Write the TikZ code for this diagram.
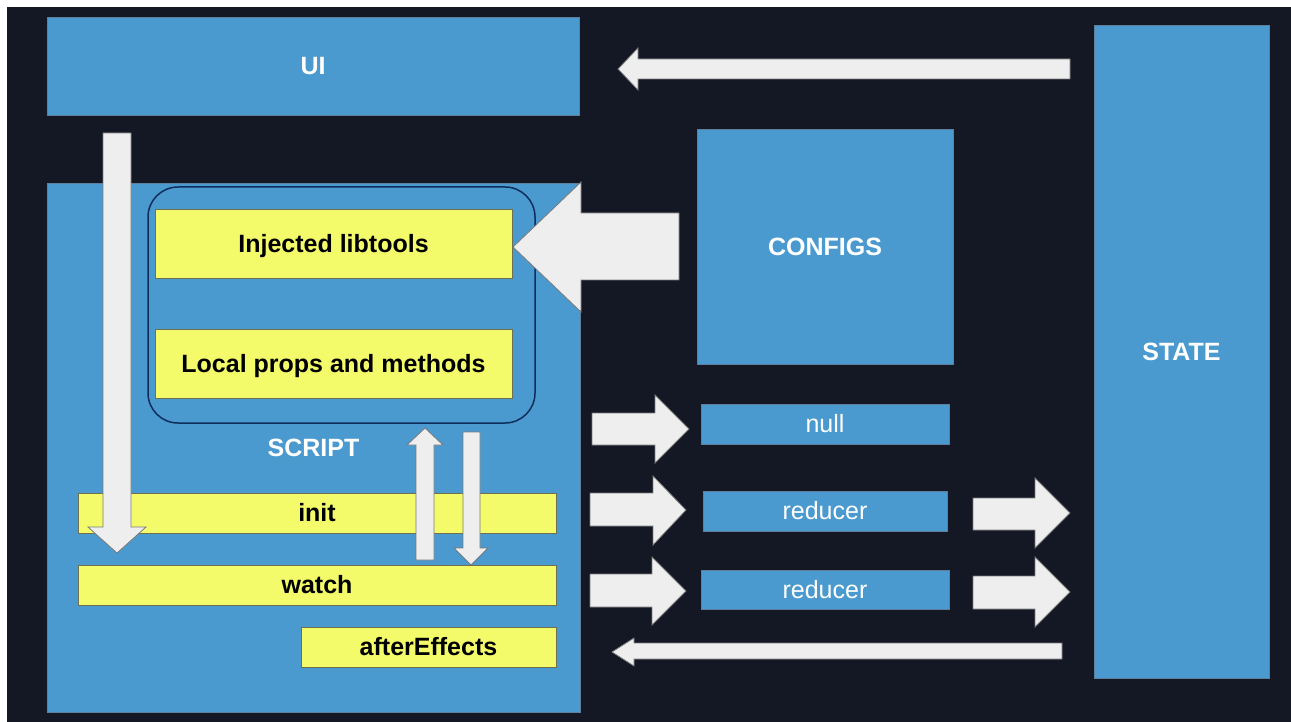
\documentclass[tikz,border=0pt]{standalone}
\usepackage{fontspec}
\setmainfont{Liberation Sans}
\begin{document}
\begin{tikzpicture}[x=1pt,y=-1pt,
  bluebox/.style={draw=boxedge, line width=0.8pt, fill=boxblue, inner sep=0pt, text=white, text height=17.5pt, text depth=0pt, font=\fontsize{25}{29}\selectfont\bfseries},
  lightbox/.style={bluebox, font=\fontsize{25}{29}\selectfont},
  yelbox/.style={draw=yeledge, line width=0.8pt, fill=boxyellow, inner sep=0pt, text=black, text height=17.5pt, text depth=0pt, font=\fontsize{25}{29}\selectfont\bfseries},
  group/.style={draw=navy, line width=1.5pt, rounded corners=30pt, inner sep=0pt},
  blockarrow/.style={fill=arrowfill, draw=arrowedge, line width=0.8pt, line join=miter}
]
\definecolor{bgdark}{HTML}{131824}
\definecolor{boxblue}{HTML}{4A9AD0}
\definecolor{boxedge}{HTML}{5E7F9C}
\definecolor{boxyellow}{HTML}{F4FB6A}
\definecolor{yeledge}{HTML}{6E7050}
\definecolor{navy}{HTML}{0E2E5C}
\definecolor{arrowfill}{HTML}{EEEEEE}
\definecolor{arrowedge}{HTML}{7A7A7A}
\useasboundingbox (0,0) rectangle (1291,722);
\fill[white] (0,0) rectangle (1291,722);
\fill[bgdark] (7,7) rectangle (1291,722);

% main boxes
\node[bluebox, minimum width=532pt, minimum height=98pt] (ui) at (313,66) {UI};
\node[bluebox, minimum width=175pt, minimum height=653pt] (state) at (1181.5,351.5) {STATE};
\node[bluebox, minimum width=533pt, minimum height=529pt] (script) at (313.5,447.5) {SCRIPT};
\node[bluebox, minimum width=256pt, minimum height=235pt] (configs) at (825,246.5) {CONFIGS};
\node[lightbox, minimum width=248pt, minimum height=40pt] (null) at (825,424) {null};
\node[lightbox, minimum width=244pt, minimum height=40pt] (red1) at (825,511) {reducer};
\node[lightbox, minimum width=248pt, minimum height=39pt] (red2) at (825,589.5) {reducer};

% grouped parts inside script
\node[group, minimum width=387pt, minimum height=236pt] (grp) at (341.5,305) {};
\node[yelbox, minimum width=357pt, minimum height=69pt] (lib) at (333.5,243.5) {Injected libtools};
\node[yelbox, minimum width=357pt, minimum height=69pt] (local) at (333.5,363.5) {Local props and methods};
\node[yelbox, minimum width=478pt, minimum height=40pt] (init) at (317,513) {init};
\node[yelbox, minimum width=478pt, minimum height=40pt] (watch) at (317,585) {watch};
\node[yelbox, minimum width=255pt, minimum height=40pt] (after) at (428.5,647) {afterEffects};

% block arrows
\draw[blockarrow] (1070,59) -- (638,59) -- (638,48) -- (618,69) -- (638,90) -- (638,79) -- (1070,79) -- cycle;
\draw[blockarrow] (103,133) -- (131,133) -- (131,527) -- (146,527) -- (117,553) -- (88,527) -- (103,527) -- cycle;
\draw[blockarrow] (679,213) -- (581,213) -- (581,182) -- (513,247) -- (581,312) -- (581,280) -- (679,280) -- cycle;
\draw[blockarrow] (416,560) -- (416,445) -- (407,445) -- (425,428) -- (443,445) -- (434,445) -- (434,560) -- cycle;
\draw[blockarrow] (463,432) -- (480,432) -- (480,548) -- (488,548) -- (471,565) -- (454,548) -- (463,548) -- cycle;
\draw[blockarrow] (592,413) -- (655,413) -- (655,395) -- (689,429) -- (655,463) -- (655,445) -- (592,445) -- cycle;
\draw[blockarrow] (590,493) -- (653,493) -- (653,476) -- (686,510) -- (653,545) -- (653,526) -- (590,526) -- cycle;
\draw[blockarrow] (590,574) -- (652,574) -- (652,557) -- (686,591) -- (652,625) -- (652,607) -- (590,607) -- cycle;
\draw[blockarrow] (973,498) -- (1035,498) -- (1035,478) -- (1070,513) -- (1035,548) -- (1035,530) -- (973,530) -- cycle;
\draw[blockarrow] (973,576) -- (1035,576) -- (1035,557) -- (1070,592) -- (1035,627) -- (1035,609) -- (973,609) -- cycle;
\draw[blockarrow] (1062,643) -- (634,643) -- (634,638) -- (612,652) -- (634,666) -- (634,659) -- (1062,659) -- cycle;
\end{tikzpicture}
\end{document}
